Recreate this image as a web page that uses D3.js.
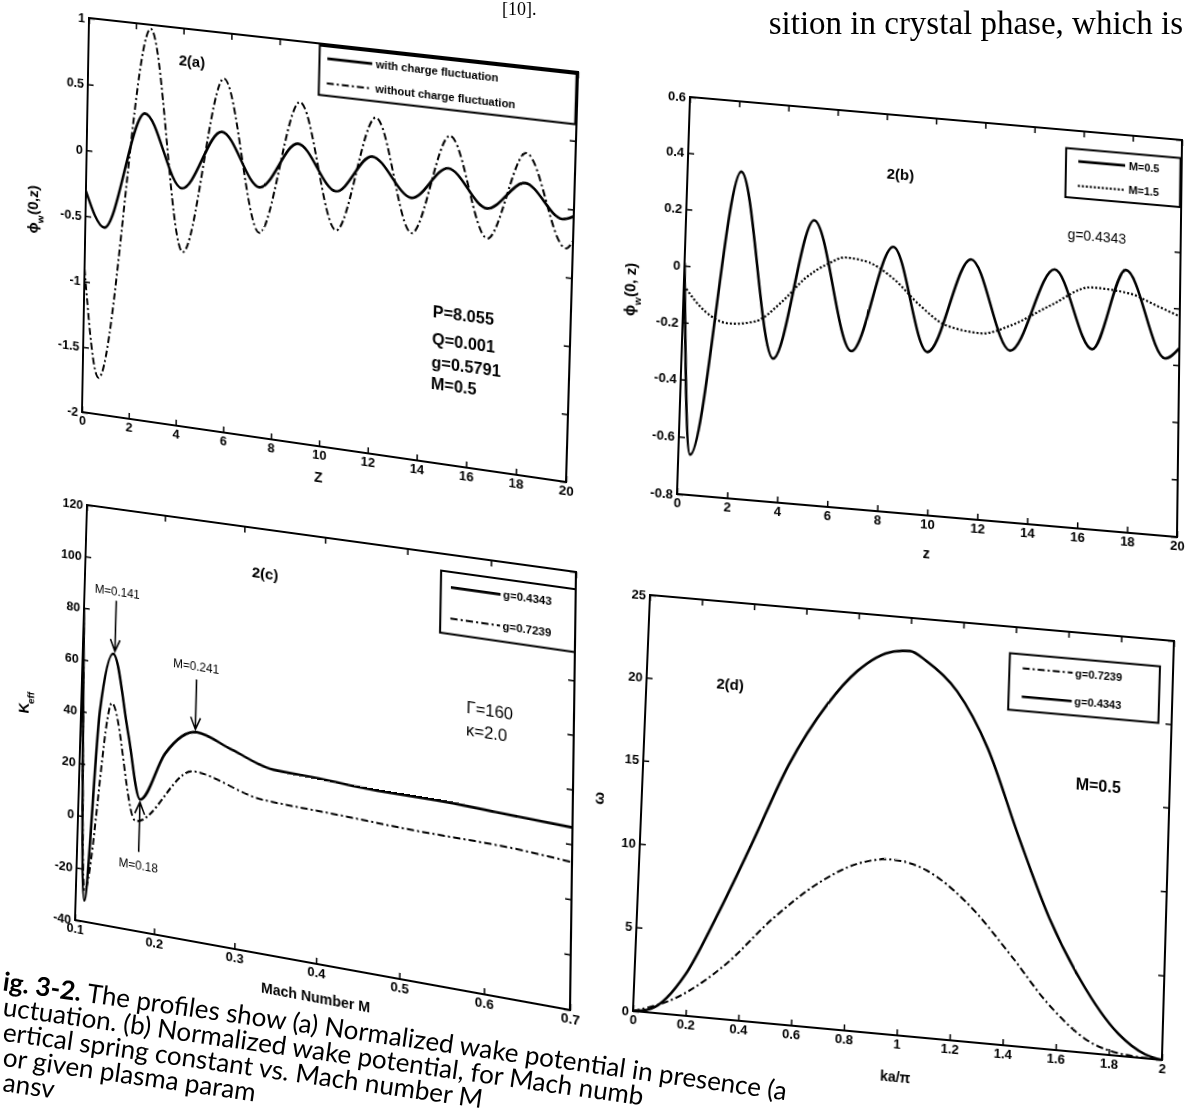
<!DOCTYPE html>
<html>
<head>
<meta charset="utf-8">
<script src="https://cdn.jsdelivr.net/npm/d3@7"></script>
<style>
  body { margin: 0; background: #fff; }
  #page { position: relative; width: 1186px; height: 1114px; overflow: hidden; background: #fff; }
  .panel { position: absolute; left: 0; top: 0; transform-origin: 0 0; }
  .panel svg { display: block; overflow: visible; }
</style>
</head>
<body>
<div id="page"></div>
<script>
// values (page is warped, each panel gets its own projective map)

// 2(a)
const zTicksA = [0, 2, 4, 6, 8, 10, 12, 14, 16, 18, 20];
const phiTicksA = [-2, -1.5, -1, -0.5, 0, 0.5, 1];
const zWithA = [0, 0.81, 2.45, 4.06, 5.69, 7.3, 8.85, 10.45, 11.89, 13.52, 14.97, 16.56, 18.05, 19.56, 20];
const phiWithA = [-0.31, -0.57, 0.33, -0.20, 0.26, -0.12, 0.24, -0.08, 0.21, -0.06, 0.19, -0.07, 0.15, -0.08, -0.05];
const zWithoutA = [0, 0.68, 2.62, 4.15, 5.73, 7.33, 8.89, 10.49, 12.0, 13.56, 15.01, 16.6, 18.06, 19.72, 20];
const phiWithoutA = [-0.90, -1.72, 0.97, -0.68, 0.66, -0.46, 0.55, -0.37, 0.50, -0.32, 0.43, -0.29, 0.37, -0.29, -0.23];

// 2(b)
const zTicksB = [0, 2, 4, 6, 8, 10, 12, 14, 16, 18, 20];
const phiTicksB = [-0.8, -0.6, -0.4, -0.2, 0, 0.2, 0.4, 0.6];
const zM05 = [0, 0.47, 2.17, 3.67, 5.17, 6.8, 8.39, 9.85, 11.54, 13.18, 14.92, 16.48, 17.8, 19.43, 20];
const phiM05 = [0.01, -0.66, 0.35, -0.30, 0.20, -0.25, 0.13, -0.23, 0.11, -0.20, 0.10, -0.17, 0.12, -0.18, -0.14];
const zM15 = [0, 0.89, 1.83, 2.91, 3.97, 4.87, 5.79, 6.47, 7.32, 8.42, 9.51, 10.6, 12.0, 13.2, 14.77, 16.45, 17.95, 19.03, 20];
const phiM15 = [-0.07, -0.155, -0.19, -0.175, -0.097, -0.008, 0.051, 0.078, 0.07, 0.018, -0.068, -0.131, -0.148, -0.111, -0.029, 0.048, 0.038, 0.004, -0.028];

// 2(c)
const machTicksC = [0.1, 0.2, 0.3, 0.4, 0.5, 0.6, 0.7];
const keffTicksC = [-40, -20, 0, 20, 40, 60, 80, 100, 120];
const machG4343 = [0.1, 0.111, 0.124, 0.139, 0.161, 0.178, 0.208, 0.247, 0.291, 0.343, 0.40, 0.469, 0.54, 0.61, 0.70];
const keffG4343 = [80, -32, 41, 64, 34, 10, 29, 39, 34.5, 29.5, 29, 28, 28, 27.2, 26.1];
const machG7239 = [0.1, 0.111, 0.139, 0.173, 0.244, 0.33, 0.423, 0.517, 0.61, 0.70];
const keffG7239 = [78, -28, 45, 1.5, 24, 17.6, 16.6, 15.5, 15.2, 13.5];

// 2(d)
const kaTicksD = [0, 0.2, 0.4, 0.6, 0.8, 1, 1.2, 1.4, 1.6, 1.8, 2];
const omegaTicksD = [0, 5, 10, 15, 20, 25];
const kaG4343 = [0, 0.068, 0.193, 0.30, 0.421, 0.554, 0.692, 0.803, 0.939, 1.0, 1.063, 1.184, 1.308, 1.435, 1.561, 1.684, 1.834, 1.937, 2];
const omegaG4343 = [0, 0.23, 2.45, 5.97, 10.41, 15.49, 19.33, 21.52, 22.89, 23.0, 22.49, 20.83, 17.56, 12.47, 7.78, 4.31, 1.3, 0.23, 0];
const kaG7239 = [0, 0.169, 0.338, 0.518, 0.688, 0.83, 0.96, 1.092, 1.241, 1.421, 1.564, 1.72, 1.865, 1.95, 2];
const omegaG7239 = [0, 1.09, 3.18, 6.28, 8.66, 9.98, 10.41, 9.95, 8.34, 5.35, 2.73, 0.73, 0.1, 0.02, 0];

// page text around the figure
const headerText = ["[10].", "sition in crystal phase, which is"];
const captionLines = [
    "uctuation. (b) Normalized wake potential, for Mach numb",
    "ertical spring constant vs. Mach number M",
    "or given plasma param",
    "ansv"
];

const margin = { top: 12, right: 12, bottom: 60, left: 72 };
const FONT = "'Liberation Sans', Arial, sans-serif";
const DASHDOT = "7,3,2,3";

// solve the 3x3 projective map src -> dst (4 point pairs)
function homography(src, dst) {
    const A = [], b = [];
    src.forEach(([x, y], i) => {
        const [u, v] = dst[i];
        A.push([x, y, 1, 0, 0, 0, -u * x, -u * y]); b.push(u);
        A.push([0, 0, 0, x, y, 1, -v * x, -v * y]); b.push(v);
    });
    for (let c = 0; c < 8; c++) {
        let p = c;
        for (let r = c + 1; r < 8; r++) if (Math.abs(A[r][c]) > Math.abs(A[p][c])) p = r;
        [A[c], A[p]] = [A[p], A[c]];
        [b[c], b[p]] = [b[p], b[c]];
        for (let r = 0; r < 8; r++) {
            if (r === c) continue;
            const f = A[r][c] / A[c][c];
            for (let k = c; k < 8; k++) A[r][k] -= f * A[c][k];
            b[r] -= f * b[c];
        }
    }
    return b.map((v, i) => v / A[i][i]);
}

function drawPanel(p) {
    const div = d3.select("#page").append("div").attr("class", "panel");
    const svg = div.append("svg")
        .attr("width", p.W + margin.left + margin.right)
        .attr("height", p.H + margin.top + margin.bottom);
    const g = svg.append("g")
        .attr("transform", `translate(${margin.left},${margin.top})`)
        .attr("font-family", FONT)
        .attr("font-weight", "bold");

    const x = d3.scaleLinear().domain(p.xDomain).range([0, p.W]);
    const y = d3.scaleLinear().domain(p.yDomain).range([p.H, 0]);
    const fmt = d => String(+d.toFixed(2));

    svg.append("defs").append("clipPath").attr("id", "clip-" + p.id)
        .append("rect").attr("width", p.W).attr("height", p.H);

    const axes = [
        [d3.axisBottom(x).tickValues(p.xTicks).tickFormat(fmt), `translate(0,${p.H})`],
        [d3.axisLeft(y).tickValues(p.yTicks).tickFormat(fmt), null],
        [d3.axisTop(x).tickValues(p.xTicks).tickFormat(""), null],
        [d3.axisRight(y).tickValues(p.yTicks).tickFormat(""), `translate(${p.W},0)`]
    ];
    axes.forEach(([ax, tr]) => {
        const a = g.append("g").attr("transform", tr)
            .call(ax.tickSize(-6).tickPadding(4));
        a.attr("font-family", FONT).attr("font-size", 13).attr("font-weight", "bold");
        a.select(".domain").remove();
        a.selectAll(".tick line").attr("stroke-width", 1.5);
        a.selectAll(".tick text").attr("fill", "#000");
    });

    g.append("rect")
        .attr("width", p.W).attr("height", p.H)
        .attr("fill", "none").attr("stroke", "#000").attr("stroke-width", 2);

    p.series.forEach(s => {
        g.append("path")
            .datum(d3.zip(s.xs, s.ys))
            .attr("clip-path", `url(#clip-${p.id})`)
            .attr("fill", "none")
            .attr("stroke", "#000")
            .attr("stroke-width", s.width)
            .attr("stroke-dasharray", s.dash)
            .attr("stroke-linejoin", "round")
            .attr("d", d3.line().x(d => x(d[0])).y(d => y(d[1])).curve(d3.curveMonotoneX));
    });

    const L = p.legend;
    const lx0 = x(L.x0), lx1 = x(L.x1), ly0 = y(L.y1), ly1 = y(L.y0);
    g.append("rect")
        .attr("x", lx0).attr("y", ly0)
        .attr("width", lx1 - lx0).attr("height", ly1 - ly0)
        .attr("fill", "#fff").attr("stroke", "#000").attr("stroke-width", 2);
    const rowH = (ly1 - ly0) / L.items.length;
    L.items.forEach((it, i) => {
        const cy = ly0 + rowH * (i + 0.5);
        g.append("line")
            .attr("x1", x(L.lineX[0])).attr("x2", x(L.lineX[1]))
            .attr("y1", cy).attr("y2", cy)
            .attr("stroke", "#000").attr("stroke-width", it.width)
            .attr("stroke-dasharray", it.dash);
        g.append("text")
            .attr("x", x(L.textX)).attr("y", cy).attr("dy", "0.35em")
            .attr("font-size", 11)
            .text(it.label);
    });

    (p.notes || []).forEach(n => {
        g.append("text")
            .attr("x", x(n.x)).attr("y", y(n.y)).attr("dy", "0.35em")
            .attr("text-anchor", n.anchor || "start")
            .attr("font-size", n.size)
            .attr("font-weight", n.weight || "bold")
            .text(n.text);
    });

    (p.arrows || []).forEach(a => {
        const ax = x(a.x), y1 = y(a.from), y2 = y(a.to);
        const dir = y2 > y1 ? 1 : -1;
        g.append("path")
            .attr("fill", "none").attr("stroke", "#000").attr("stroke-width", 1.6)
            .attr("d", `M${ax},${y1}L${ax},${y2}M${ax - 5},${y2 - dir * 12}L${ax},${y2}L${ax + 5},${y2 - dir * 12}`);
    });

    g.append("text")
        .attr("x", p.W / 2).attr("y", p.H + p.xLabelDy)
        .attr("text-anchor", "middle").attr("font-size", 14)
        .text(p.xLabel);

    const yl = g.append("text")
        .attr("transform", `translate(${-p.yLabelDx},${p.H / 2}) rotate(-90)`)
        .attr("text-anchor", "middle").attr("font-size", 15);
    p.yLabel.forEach(([t, sub]) => {
        yl.append("tspan")
            .attr("baseline-shift", sub ? "sub" : null)
            .attr("font-size", sub ? 10 : null)
            .text(t);
    });

    // map the plot corners onto the corners seen on the scanned page
    const src = [
        [margin.left, margin.top], [margin.left + p.W, margin.top],
        [margin.left, margin.top + p.H], [margin.left + p.W, margin.top + p.H]
    ];
    const h = homography(src, p.corners);
    div.style("transform",
        `matrix3d(${h[0]},${h[3]},0,${h[6]},${h[1]},${h[4]},0,${h[7]},0,0,1,0,${h[2]},${h[5]},0,1)`);
}

drawPanel({
    id: "a", W: 488, H: 400,
    corners: [[89, 18], [578, 72], [82, 412], [566, 482]],
    xDomain: [0, 20], yDomain: [-2, 1], xTicks: zTicksA, yTicks: phiTicksA,
    series: [
        { xs: zWithA, ys: phiWithA, width: 2.6, dash: null },
        { xs: zWithoutA, ys: phiWithoutA, width: 2, dash: DASHDOT }
    ],
    legend: {
        x0: 9.65, x1: 19.95, y0: 0.62, y1: 0.985, lineX: [9.97, 11.8], textX: 11.95,
        items: [
            { label: "with charge fluctuation", width: 2.6, dash: null },
            { label: "without charge fluctuation", width: 2, dash: DASHDOT }
        ]
    },
    notes: [
        { x: 4.38, y: 0.76, text: "2(a)", size: 15, anchor: "middle" },
        { x: 14.5, y: -0.88, text: "P=8.055", size: 16 },
        { x: 14.5, y: -1.08, text: "Q=0.001", size: 16 },
        { x: 14.5, y: -1.25, text: "g=0.5791", size: 16 },
        { x: 14.5, y: -1.41, text: "M=0.5", size: 16 }
    ],
    xLabel: "Z", xLabelDy: 36,
    yLabel: [["ϕ"], ["w", true], ["(0,z)"]], yLabelDx: 50
});

drawPanel({
    id: "b", W: 494, H: 397,
    corners: [[690, 97], [1182, 140], [677, 494], [1177, 537]],
    xDomain: [0, 20], yDomain: [-0.8, 0.6], xTicks: zTicksB, yTicks: phiTicksB,
    series: [
        { xs: zM05, ys: phiM05, width: 2.6, dash: null },
        { xs: zM15, ys: phiM15, width: 2.2, dash: "2,2" }
    ],
    legend: {
        x0: 15.3, x1: 19.95, y0: 0.36, y1: 0.535, lineX: [15.8, 17.7], textX: 17.85,
        items: [
            { label: "M=0.5", width: 2.6, dash: null },
            { label: "M=1.5", width: 2.2, dash: "2,2" }
        ]
    },
    notes: [
        { x: 8.6, y: 0.39, text: "2(b)", size: 15, anchor: "middle" },
        { x: 16.6, y: 0.23, text: "g=0.4343", size: 14, anchor: "middle", weight: "normal" }
    ],
    xLabel: "z", xLabelDy: 42,
    yLabel: [["ϕ"], ["w", true], ["(0, z)"]], yLabelDx: 48
});

drawPanel({
    id: "c", W: 490, H: 425,
    corners: [[87, 505], [576, 572], [75, 920], [570, 1010]],
    xDomain: [0.1, 0.7], yDomain: [-40, 120], xTicks: machTicksC, yTicks: keffTicksC,
    series: [
        { xs: machG4343, ys: keffG4343, width: 2.6, dash: null },
        { xs: machG7239, ys: keffG7239, width: 2, dash: DASHDOT }
    ],
    legend: {
        x0: 0.541, x1: 0.70, y0: 90.4, y1: 113.6, lineX: [0.553, 0.612], textX: 0.615,
        items: [
            { label: "g=0.4343", width: 2.6, dash: null },
            { label: "g=0.7239", width: 2, dash: DASHDOT }
        ]
    },
    notes: [
        { x: 0.327, y: 103, text: "2(c)", size: 15, anchor: "middle" },
        { x: 0.142, y: 88, text: "M=0.141", size: 12, anchor: "middle", weight: "normal" },
        { x: 0.244, y: 64, text: "M=0.241", size: 12, anchor: "middle", weight: "normal" },
        { x: 0.178, y: -15, text: "M=0.18", size: 12, anchor: "middle", weight: "normal" },
        { x: 0.574, y: 64.3, text: "Γ=160", size: 16, weight: "normal" },
        { x: 0.574, y: 56, text: "κ=2.0", size: 16, weight: "normal" }
    ],
    arrows: [
        { x: 0.141, from: 84.5, to: 65 },
        { x: 0.245, from: 59, to: 40 },
        { x: 0.178, from: -10, to: 9 }
    ],
    xLabel: "Mach Number M", xLabelDy: 38,
    yLabel: [["K"], ["eff", true]], yLabelDx: 55
});

drawPanel({
    id: "d", W: 525, H: 417,
    corners: [[650, 595], [1174, 641], [633, 1011], [1162, 1060]],
    xDomain: [0, 2], yDomain: [0, 25], xTicks: kaTicksD, yTicks: omegaTicksD,
    series: [
        { xs: kaG4343, ys: omegaG4343, width: 2.6, dash: null },
        { xs: kaG7239, ys: omegaG7239, width: 2, dash: DASHDOT }
    ],
    legend: {
        x0: 1.38, x1: 1.95, y0: 20.0, y1: 23.4, lineX: [1.43, 1.62], textX: 1.63,
        items: [
            { label: "g=0.7239", width: 2, dash: DASHDOT },
            { label: "g=0.4343", width: 2.6, dash: null }
        ]
    },
    notes: [
        { x: 0.32, y: 20.05, text: "2(d)", size: 15, anchor: "middle" },
        { x: 1.73, y: 15.9, text: "M=0.5", size: 16, anchor: "middle" }
    ],
    xLabel: "ka/π", xLabelDy: 46,
    yLabel: [["ω"]], yLabelDx: 38
});

// running text of the page that frames the figure
const over = d3.select("#page").append("svg")
    .attr("width", 1186).attr("height", 1114)
    .style("position", "absolute").style("left", 0).style("top", 0);

over.append("text")
    .attr("x", 502).attr("y", 15)
    .attr("font-family", "'Liberation Serif', 'Times New Roman', serif").attr("font-size", 18)
    .text(headerText[0]);
over.append("text")
    .attr("x", 1183).attr("y", 34)
    .attr("text-anchor", "end")
    .attr("font-family", "'Liberation Serif', 'Times New Roman', serif").attr("font-size", 33)
    .text(headerText[1]);

const cap = over.append("g")
    .attr("transform", "translate(1,990) rotate(8)")
    .attr("font-family", "Lato, 'Noto Sans', sans-serif")
    .attr("font-size", 26)
    .attr("fill", "#000");
const first = cap.append("text").attr("x", 1).attr("y", 0);
first.append("tspan").attr("font-weight", "bold").text("ig. 3-2.");
first.append("tspan").text(" The profiles show (a) Normalized wake potential in presence (a");
// each lower line starts a little further right so it stays on the page
captionLines.forEach((t, i) => {
    const ly = (i + 1) * 25;
    cap.append("text")
        .attr("x", 1 + ly * Math.tan(8 * Math.PI / 180))
        .attr("y", ly)
        .text(t);
});
</script>
</body>
</html>
